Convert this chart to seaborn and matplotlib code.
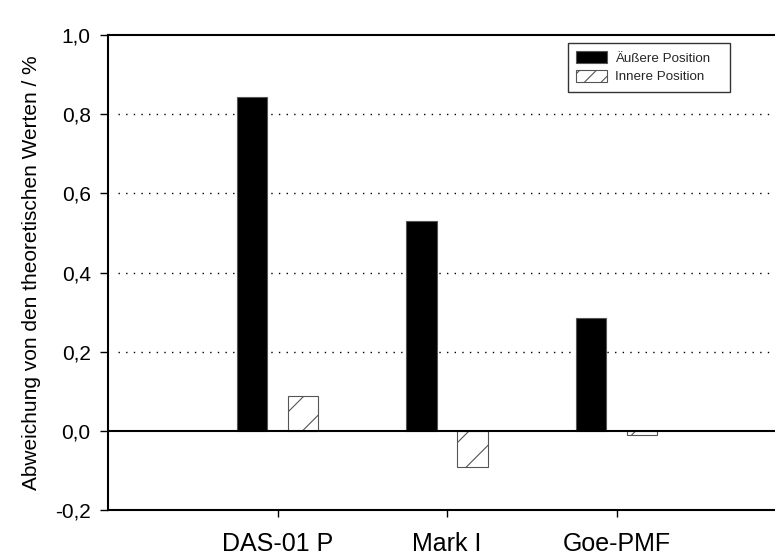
import matplotlib
matplotlib.use("Agg")
import matplotlib.pyplot as plt
from matplotlib.patches import Patch
from matplotlib.ticker import FuncFormatter
import seaborn as sns
import pandas as pd

# Messwerte: Abweichung von den theoretischen Werten in %
geraete = ["DAS-01 P", "Mark I", "Goe-PMF"]
aeussere = [0.843, 0.530, 0.285]
innere = [0.088, -0.091, -0.010]
positionen = ["Äußere Position", "Innere Position"]
y_ticks = [-0.2, 0.0, 0.2, 0.4, 0.6, 0.8, 1.0]

df = pd.DataFrame({
    "Gerät": geraete * 2,
    "Position": [positionen[0]] * 3 + [positionen[1]] * 3,
    "Wert": aeussere + innere,
})

sns.set_theme(style="white")
plt.rcParams["font.family"] = ["Liberation Sans", "DejaVu Sans"]
plt.rcParams["hatch.color"] = "#333333"
plt.rcParams["hatch.linewidth"] = 0.8

fig = plt.figure(figsize=(7.75, 5.56), dpi=100)
ax = fig.add_axes([0.1394, 0.0827, 0.875, 0.854])

sns.barplot(data=df, x="Gerät", y="Wert", hue="Position", hue_order=positionen,
            palette={positionen[0]: "black", positionen[1]: "white"},
            width=0.6, gap=0.4, dodge=True, legend=False, ax=ax, zorder=3)

for bar in ax.containers[0]:
    bar.set_edgecolor("#555555")
    bar.set_linewidth(0.8)
for bar in ax.containers[1]:
    bar.set_hatch("/")
    bar.set_edgecolor("#555555")
    bar.set_linewidth(0.8)

ax.set_xlim(-1.0, 3.0)
ax.set_ylim(-0.2, 1.0)
ax.set_yticks(y_ticks)
ax.yaxis.set_major_formatter(FuncFormatter(lambda v, p: f"{v:.1f}".replace(".", ",")))

# gepunktete Hilfslinien
for g in [0.2, 0.4, 0.6, 0.8]:
    ax.axhline(g, xmin=0.015, color="black", lw=1.0, ls=(0, (1, 4.5)), zorder=1)
ax.axhline(0.0, color="black", lw=1.5, zorder=4)

for side in ["left", "bottom", "top"]:
    ax.spines[side].set_visible(True)
    ax.spines[side].set_color("black")
    ax.spines[side].set_linewidth(1.5)
ax.spines["right"].set_visible(False)

ax.tick_params(axis="y", which="major", direction="out", length=5.5, width=1,
               color="black", labelsize=15, labelcolor="black", left=True, pad=7)
ax.tick_params(axis="x", which="major", direction="out", length=5, width=1,
               color="black", labelsize=18, labelcolor="black", bottom=True, pad=11)

ax.set_xlabel("")
ax.set_ylabel("Abweichung von den theoretischen Werten / %", fontsize=15,
              color="black", labelpad=10)

handles = [
    Patch(facecolor="black", edgecolor="#555555", linewidth=0.8, label=positionen[0]),
    Patch(facecolor="white", edgecolor="#555555", linewidth=0.8, hatch="//", label=positionen[1]),
]
leg = ax.legend(handles=handles, loc="upper left",
                bbox_to_anchor=(0.678, 0.0, 0.239, 0.984), mode="expand",
                borderaxespad=0, fontsize=9.6, frameon=True, fancybox=False,
                borderpad=0.65, handlelength=2.3, handleheight=1.0,
                labelspacing=0.35, handletextpad=0.6)
leg.get_frame().set_edgecolor("black")
leg.get_frame().set_linewidth(1.0)

fig.savefig("out.png", dpi=100)
